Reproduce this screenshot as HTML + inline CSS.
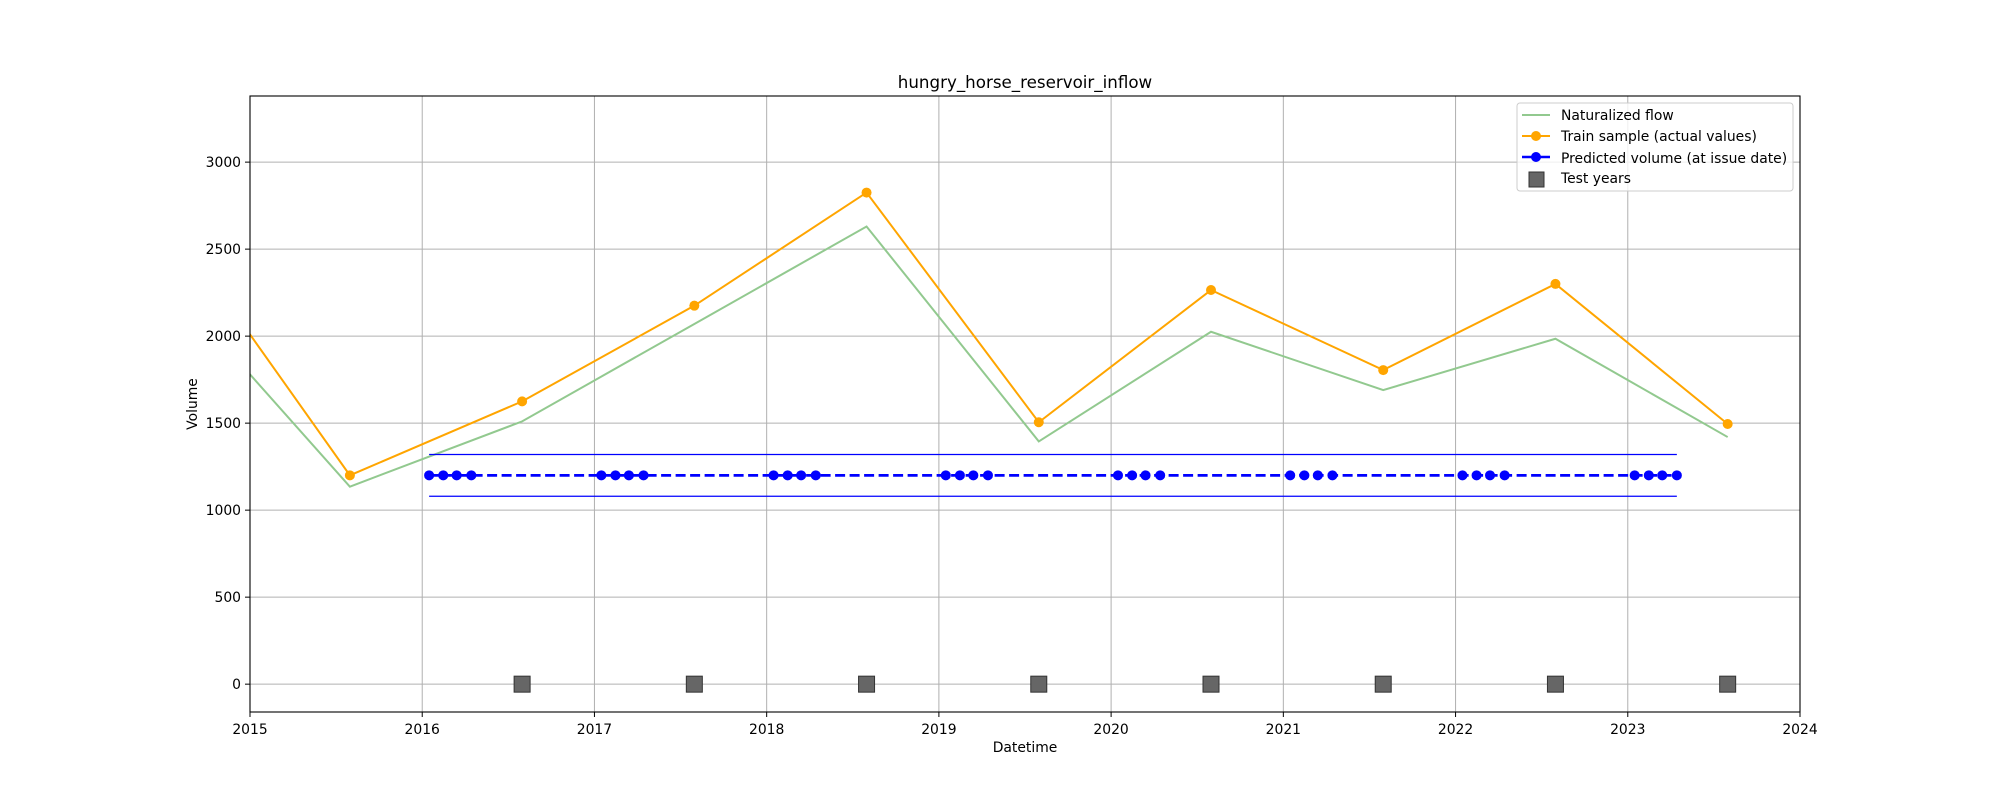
<!DOCTYPE html>
<html><head><meta charset="utf-8"><style>
body{margin:0;background:#fff}
svg{font-family:"DejaVu Sans","Liberation Sans",sans-serif}
</style></head><body>
<svg id="chart" width="2000" height="800" xmlns="http://www.w3.org/2000/svg">
<rect width="2000" height="800" fill="#fff"/>
<defs><clipPath id="plotclip"><rect x="250" y="96" width="1550" height="616"/></clipPath></defs>
<g id="grid"></g>
<g id="series" clip-path="url(#plotclip)"></g>
<rect x="250" y="96" width="1550" height="616" fill="none" stroke="#000" stroke-width="1.1"/>
<g id="ticks"></g>
<text x="1025" y="88" text-anchor="middle" font-size="16.7">hungry_horse_reservoir_inflow</text>
<text x="1025" y="752" text-anchor="middle" font-size="13.9">Datetime</text>
<text x="0" y="0" transform="translate(197,404) rotate(-90)" text-anchor="middle" font-size="13.9">Volume</text>
<g>
<rect x="1517" y="103" width="276" height="88" rx="3" fill="#fff" fill-opacity="0.8" stroke="#ccc"/>
<g><line x1="1522" y1="115" x2="1550" y2="115" stroke="#92c98f" stroke-width="2"/><text x="1561" y="120" font-size="13.9">Naturalized flow</text></g>
<g><line x1="1522" y1="136" x2="1550" y2="136" stroke="orange" stroke-width="2"/><circle cx="1536" cy="136" r="5" fill="orange"/><text x="1561" y="141" font-size="13.9">Train sample (actual values)</text></g>
<g><line x1="1522" y1="157" x2="1550" y2="157" stroke="blue" stroke-width="2.5"/><circle cx="1536" cy="157" r="5" fill="blue"/><text x="1561" y="163" font-size="13.9">Predicted volume (at issue date)</text></g>
<g><rect x="1529" y="172" width="15" height="15" fill="#666" stroke="#333"/><text x="1561" y="183" font-size="13.9">Test years</text></g>
</g>
</svg>
<script>
const years = [2014.58,2015.58,2016.58,2017.58,2018.58,2019.58,2020.58,2021.58,2022.58,2023.58];
const naturalized = [2247,1135,1510,2070,2630,1395,2025,1690,1985,1420];
const trainValues = [2596,1200,1625,2175,2825,1505,2265,1805,2300,1495];
const predYears = [2016,2017,2018,2019,2020,2021,2022,2023];
const issueOffsets = [0.04,0.122,0.2,0.285];
const predictedValue = [1200];
const bandValues = [1320,1080];
const testYears = [2016.58,2017.58,2018.58,2019.58,2020.58,2021.58,2022.58,2023.58];
const xTicks = [2015,2016,2017,2018,2019,2020,2021,2022,2023,2024];
const yTicks = [0,500,1000,1500,2000,2500,3000];

const NS='http://www.w3.org/2000/svg';
const X = v => 250 + (v-2015)/9*1550;
const Y = v => 712 - (v+160)/3540*616;
function mk(tag, attrs, parent){const e=document.createElementNS(NS,tag);for(const k in attrs)e.setAttribute(k,attrs[k]);parent.appendChild(e);return e;}
const grid=document.getElementById('grid'), ser=document.getElementById('series'), tk=document.getElementById('ticks');

xTicks.forEach(t=>{
  const g=mk('line',{x1:X(t),x2:X(t),y1:96,y2:712,stroke:'#b0b0b0','stroke-width':1},grid);
  
  
  mk('line',{x1:X(t),x2:X(t),y1:712,y2:717,stroke:'#000'},tk);
  const l=mk('text',{x:X(t),y:734,'text-anchor':'middle','font-size':13.9},tk);
  l.textContent=t;
  
  
});
yTicks.forEach(t=>{
  const g=mk('line',{x1:250,x2:1800,y1:Y(t),y2:Y(t),stroke:'#b0b0b0','stroke-width':1},grid);
  
  
  mk('line',{x1:245,x2:250,y1:Y(t),y2:Y(t),stroke:'#000'},tk);
  const l=mk('text',{x:241,y:Y(t)+5,'text-anchor':'end','font-size':13.9},tk);
  l.textContent=t;
  
  
});

const nat=mk('polyline',{points:years.map((y,i)=>X(y)+','+Y(naturalized[i])).join(' '),fill:'none',stroke:'#92c98f','stroke-width':2},ser);



const tr=mk('polyline',{points:years.map((y,i)=>X(y)+','+Y(trainValues[i])).join(' '),fill:'none',stroke:'orange','stroke-width':2},ser);


years.forEach((y,i)=>{
  const c=mk('circle',{cx:X(y),cy:Y(trainValues[i]),r:5,fill:'orange'},ser);
  
  
});

const pd=[];
predYears.forEach(y=>issueOffsets.forEach(o=>pd.push(y+o)));
const x0=X(pd[0]), x1=X(pd[pd.length-1]);
bandValues.forEach(b=>{
  const l=mk('line',{x1:x0,x2:x1,y1:Y(b),y2:Y(b),stroke:'blue','stroke-width':1.3},ser);
  
  
});
const pl=mk('polyline',{points:pd.map(d=>X(d)+','+Y(predictedValue[0])).join(' '),fill:'none',stroke:'blue','stroke-width':2.8,'stroke-dasharray':'10,4.5'},ser);


pd.forEach(d=>{
  const c=mk('circle',{cx:X(d),cy:Y(predictedValue[0]),r:5,fill:'blue'},ser);
  
  
});
testYears.forEach(t=>{
  const r=mk('rect',{x:X(t)-8,y:Y(0)-8,width:16,height:16,fill:'#666',stroke:'#333','stroke-width':1},ser);
  
  
});
</script>
</body></html>
